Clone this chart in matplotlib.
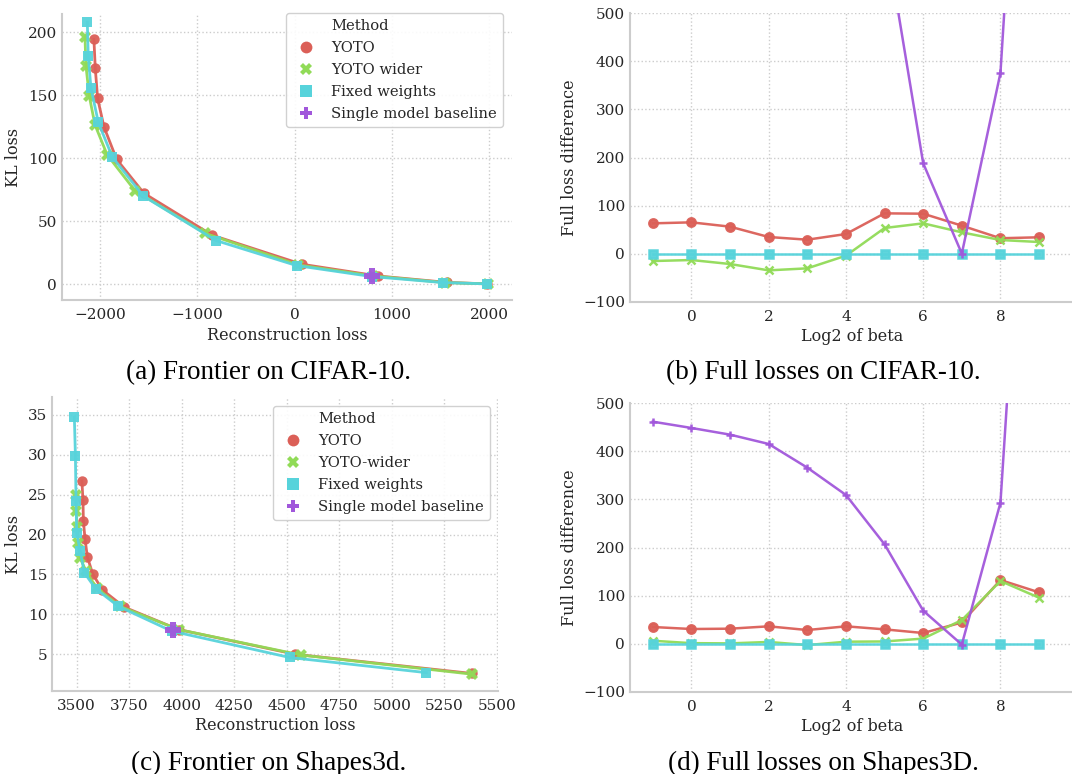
import matplotlib
matplotlib.use('Agg')
import matplotlib.pyplot as plt
from matplotlib.lines import Line2D

# ---------------- data ----------------
betas = [-1, 0, 1, 2, 3, 4, 5, 6, 7, 8, 9]

# (a) CIFAR-10 frontier
c10_yoto_rec = [-2062, -2048, -2024, -1959, -1829, -1548, -845, 74, 855, 1565, 1975]
c10_yoto_kl = [194.4, 171.4, 147.6, 125.0, 99.2, 72.2, 38.9, 15.9, 6.6, 1.5, 0.3]
c10_wider_rec = [-2154, -2144, -2110, -2051, -1925, -1640, -920, 39, 810, 1547, 1993]
c10_wider_kl = [196.6, 173.5, 149.5, 126.5, 102.6, 74.3, 40.5, 15.3, 6.6, 1.3, 0.3]
c10_fixed_rec = [-2130, -2120, -2093, -2017, -1873, -1554, -807, 22, 793, 1530, 1983]
c10_fixed_kl = [208.0, 181.0, 156.0, 128.6, 101.0, 70.0, 34.7, 14.8, 6.1, 1.3, 0.3]
c10_single_rec = [793]
c10_single_kl = [6.4]

# (c) Shapes3d frontier
s3_yoto_rec = [3525, 3530, 3532, 3540, 3551, 3576, 3621, 3727, 3985, 4541, 5381]
s3_yoto_kl = [26.7, 24.3, 21.7, 19.4, 17.2, 15.1, 13.1, 10.9, 8.1, 5.0, 2.6]
s3_wider_rec = [3497, 3497, 3503, 3508, 3516, 3545, 3595, 3707, 3985, 4570, 5384]
s3_wider_kl = [25.0, 23.0, 21.0, 19.0, 17.1, 15.4, 13.3, 11.0, 8.1, 4.9, 2.5]
s3_fixed_rec = [3489, 3494, 3497, 3500, 3516, 3537, 3591, 3699, 3953, 4514, 5165]
s3_fixed_kl = [34.7, 29.9, 24.2, 20.2, 18.0, 15.2, 13.2, 11.0, 7.9, 4.6, 2.7]
s3_single_rec = [3958]
s3_single_kl = [8.0]

# (b) CIFAR-10 full loss difference
c10_diff_yoto = [63.0, 65.1, 56.1, 34.6, 29.0, 40.8, 83.8, 83.1, 58.2, 32.0, 34.0]
c10_diff_wider = [-15.4, -13.3, -21.6, -34.8, -30.6, -4.3, 53.3, 63.0, 44.3, 28.3, 24.2]
c10_diff_fixed = [0, 0, 0, 0, 0, 0, 0, 0, 0, 0, 0]
c10_diff_single = [3000, 2600, 2200, 1750, 1300, 950, 675, 188, 0, 376, 1654]

# (d) Shapes3D full loss difference
s3_diff_yoto = [34.6, 30.4, 31.1, 36.0, 28.3, 36.0, 29.7, 22.1, 44.0, 132.3, 106.7]
s3_diff_wider = [6.0, 1.0, 0.5, 3.5, -3.0, 4.0, 4.5, 10.5, 49.0, 130.3, 95.5]
s3_diff_fixed = [0, 0, 0, 0, 0, 0, 0, 0, 0, 0, 0]
s3_diff_single = [461.8, 448.7, 434.8, 415.4, 366.1, 309.3, 206.6, 68.6, -2.0, 293.3, 1533]

method_names_a = ["YOTO", "YOTO wider", "Fixed weights", "Single model baseline"]
method_names_c = ["YOTO", "YOTO-wider", "Fixed weights", "Single model baseline"]
colors = ["#db5f57", "#91db57", "#57d3db", "#a157db"]
markers_front = ["o", "X", "s", "P"]
markers_diff = ["o", "x", "s", "+"]

captions = ["(a) Frontier on CIFAR-10.", "(b) Full losses on CIFAR-10.",
            "(c) Frontier on Shapes3d.", "(d) Full losses on Shapes3D."]

# ---------------- style ----------------
plt.rcParams['font.family'] = ['DejaVu Serif']
plt.rcParams['font.size'] = 11
TXT = '#262626'
GRID = '#cccccc'

W, H = 1072, 774
fig = plt.figure(figsize=(W / 100, H / 100), dpi=100)


def px_axes(l, t, r, b):
    return fig.add_axes([l / W, 1 - b / H, (r - l) / W, (b - t) / H])


def style(ax):
    for s in ['top', 'right']:
        ax.spines[s].set_visible(False)
    for s in ['left', 'bottom']:
        ax.spines[s].set_color(GRID)
        ax.spines[s].set_linewidth(1.5)
    ax.grid(True, linestyle=':', color=GRID, linewidth=1.0)
    ax.set_axisbelow(True)
    ax.tick_params(length=0, labelsize=11, colors=TXT)
    ax.tick_params(axis='y', pad=3.5)
    ax.tick_params(axis='x', pad=6)


def frontier(ax, series, names, legend_anchor):
    sizes = [7.5, 8, 7.5, 12]
    for (xs, ys), c, m, n, s in zip(series, colors, markers_front, names, sizes):
        ax.plot(xs, ys, color=c, lw=2, marker=m, ms=s, mew=0,
                alpha=0.95, label=n)
    handles = [Line2D([], [], linestyle='none', marker=None)]
    for c, m in zip(colors, markers_front):
        handles.append(Line2D([], [], linestyle='none', marker=m, color=c,
                              ms=8.5, mew=0))
    leg = ax.legend(handles, ["Method"] + names, loc='upper right',
                    bbox_to_anchor=legend_anchor, borderaxespad=0,
                    fontsize=10.6, frameon=True, framealpha=0.9,
                    edgecolor=GRID, handlelength=1.9, handletextpad=0.8,
                    labelspacing=0.55, borderpad=0.4)
    for t in leg.get_texts():
        t.set_color(TXT)
    ax.set_xlabel("Reconstruction loss", fontsize=11.5, color=TXT, labelpad=3)
    ax.set_ylabel("KL loss", fontsize=11.5, color=TXT, labelpad=4)


def diff(ax, series):
    for ys, c, m in zip(series, colors, markers_diff):
        ax.plot(betas, ys, color=c, lw=1.8, marker=m, ms=6, mew=1.8,
                alpha=0.95)
    ax.set_ylim(-100, 500)
    ax.set_xlim(-1.59, 9.93)
    ax.set_xticks([0, 2, 4, 6, 8])
    ax.set_yticks([-100, 0, 100, 200, 300, 400, 500])
    ax.set_xlabel("Log2 of beta", fontsize=11.5, color=TXT, labelpad=3)
    ax.set_ylabel("Full loss difference", fontsize=11.5, color=TXT, labelpad=4)


# (a)
ax1 = px_axes(62, 14, 512, 300)
style(ax1)
frontier(ax1, [(c10_yoto_rec, c10_yoto_kl), (c10_wider_rec, c10_wider_kl),
               (c10_fixed_rec, c10_fixed_kl), (c10_single_rec, c10_single_kl)],
         method_names_a, (0.98, 1.0035))
ax1.set_xlim(-2390, 2235)
ax1.set_ylim(-12.5, 214.5)
ax1.set_xticks([-2000, -1000, 0, 1000, 2000])
ax1.set_yticks([0, 50, 100, 150, 200])

# (b)
ax2 = px_axes(630, 13.3, 1075, 301.7)
style(ax2)
diff(ax2, [c10_diff_yoto, c10_diff_wider, c10_diff_fixed, c10_diff_single])

# (c)
ax3 = px_axes(52.3, 397.3, 498, 691)
style(ax3)
frontier(ax3, [(s3_yoto_rec, s3_yoto_kl), (s3_wider_rec, s3_wider_kl),
               (s3_fixed_rec, s3_fixed_kl), (s3_single_rec, s3_single_kl)],
         method_names_c, (0.982, 0.971))
ax3.set_xlim(3384, 5506)
ax3.set_ylim(0.4, 37.2)
ax3.set_xticks([3500, 3750, 4000, 4250, 4500, 4750, 5000, 5250, 5500])
ax3.set_yticks([5, 10, 15, 20, 25, 30, 35])

# (d)
ax4 = px_axes(630, 403.3, 1075, 691.7)
style(ax4)
diff(ax4, [s3_diff_yoto, s3_diff_wider, s3_diff_fixed, s3_diff_single])

# captions
cap_pos = [(269, 373), (823, 373), (269, 763), (823, 763)]
for (cx, cy), txt in zip(cap_pos, captions):
    fig.text(cx / W, 1 - cy / H, txt, ha='center', va='center',
             fontsize=19.5, family='Liberation Serif', color='black')

fig.savefig('out.png', dpi=100)
